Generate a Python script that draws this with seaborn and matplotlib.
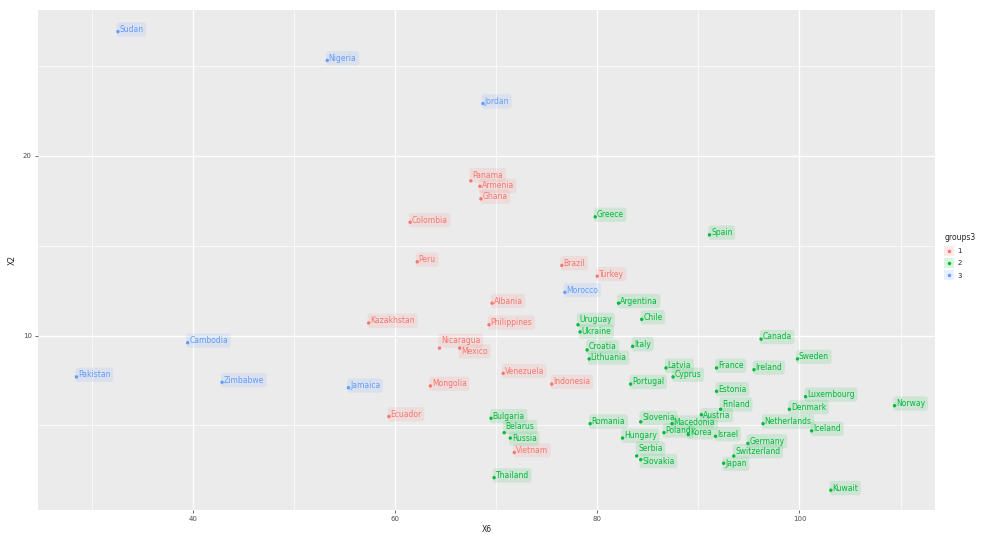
import matplotlib
matplotlib.use("Agg")
import matplotlib.pyplot as plt
from matplotlib.lines import Line2D
import seaborn as sns
import pandas as pd

# country scores on the two indicators, with cluster membership
countries = [
    "Sudan", "Nigeria", "Jordan", "Morocco", "Cambodia", "Pakistan", "Zimbabwe", "Jamaica",
    "Panama", "Armenia", "Ghana", "Colombia", "Peru", "Brazil", "Turkey", "Albania",
    "Philippines", "Kazakhstan", "Nicaragua", "Mexico", "Ecuador", "Mongolia", "Venezuela",
    "Indonesia", "Vietnam",
    "Greece", "Spain", "Argentina", "Chile", "Uruguay", "Ukraine", "Croatia", "Lithuania",
    "Italy", "Canada", "Sweden", "Latvia", "Cyprus", "France", "Ireland", "Portugal",
    "Estonia", "Luxembourg", "Norway", "Austria", "Finland", "Denmark", "Netherlands",
    "Iceland", "Romania", "Bulgaria", "Slovenia", "Macedonia", "Hungary", "Poland", "Korea",
    "Israel", "Germany", "Belarus", "Russia", "Serbia", "Slovakia", "Switzerland", "Japan",
    "Thailand", "Kuwait",
]
x6 = [
    32.6, 53.3, 68.7, 76.8, 39.5, 28.5, 42.9, 55.4,
    67.5, 68.4, 68.5, 61.5, 62.2, 76.5, 80.0, 69.6,
    69.3, 57.4, 64.4, 66.4, 59.4, 63.5, 70.7,
    75.5, 71.8,
    79.8, 91.1, 82.1, 84.4, 78.1, 78.3, 79.0, 79.2,
    83.5, 96.2, 99.8, 86.8, 87.5, 91.8, 95.5, 83.3,
    91.8, 100.6, 109.4, 90.3, 92.2, 99.0, 96.4,
    101.2, 79.3, 69.5, 84.3, 87.4, 82.5, 86.6, 89.0,
    91.7, 94.9, 70.8, 71.4, 83.9, 84.3, 93.5, 92.5,
    69.8, 103.1,
]
x2 = [
    26.9, 25.3, 22.9, 12.4, 9.6, 7.7, 7.4, 7.1,
    18.6, 18.3, 17.6, 16.3, 14.1, 13.9, 13.3, 11.8,
    10.6, 10.7, 9.3, 9.3, 5.5, 7.2, 7.9,
    7.3, 3.5,
    16.6, 15.6, 11.8, 10.9, 10.6, 10.2, 9.2, 8.7,
    9.4, 9.8, 8.7, 8.2, 7.7, 8.2, 8.1, 7.3,
    6.9, 6.6, 6.1, 5.6, 5.9, 5.9, 5.1,
    4.7, 5.1, 5.4, 5.2, 5.1, 4.3, 4.6, 4.5,
    4.4, 4.0, 4.6, 4.3, 3.3, 3.1, 3.3, 2.9,
    2.1, 1.4,
]
groups3 = (["3"] * 8) + (["1"] * 17) + (["2"] * 41)

group_levels = ["1", "2", "3"]
palette = {"1": "#F8766D", "2": "#00BA38", "3": "#619CFF"}

# small vertical nudges so that crowded labels stay readable
label_nudge = {
    "Panama": 0.2, "Armenia": -0.1, "Nicaragua": 0.3, "Mexico": -0.3,
    "Uruguay": 0.15, "Ukraine": -0.1, "Croatia": 0.05, "Lithuania": -0.05,
    "Belarus": 0.2, "Russia": -0.15, "Serbia": 0.3, "Slovakia": -0.2,
    "Slovenia": 0.1, "Macedonia": -0.05, "Austria": -0.15, "Finland": 0.15,
    "Switzerland": 0.15, "Japan": -0.15,
}

df = pd.DataFrame({"country": countries, "X6": x6, "X2": x2, "groups3": groups3})

sns.set_theme(style="darkgrid")
fig = plt.figure(figsize=(9.89, 5.36), dpi=100)
ax = fig.add_axes([38 / 989, 26 / 536, (935 - 38) / 989, (510 - 10) / 536])
ax.set_facecolor("#EBEBEB")

sns.scatterplot(data=df, x="X6", y="X2", hue="groups3", hue_order=group_levels,
                palette=palette, s=6, linewidth=0, legend=False, ax=ax, zorder=3)

for _, row in df.iterrows():
    c = palette[row["groups3"]]
    dy = label_nudge.get(row["country"], 0.0)
    ax.text(row["X6"] + 0.15, row["X2"] + 0.12 + dy, row["country"], fontsize=5.5, color=c,
            ha="left", va="center", zorder=4,
            bbox=dict(boxstyle="round,pad=0.35", facecolor=c, alpha=0.12, edgecolor="none"))

ax.set_xlim(24.7, 113.4)
ax.set_ylim(0.3, 28.1)
ax.set_xticks([40, 60, 80, 100])
ax.set_yticks([10, 20])
ax.set_xticks([30, 50, 70, 90, 110], minor=True)
ax.set_yticks([5, 15, 25], minor=True)
ax.grid(which="major", color="white", linewidth=1.0)
ax.grid(which="minor", color="white", linewidth=0.5)
for s in ax.spines.values():
    s.set_visible(False)
ax.tick_params(axis="both", which="major", labelsize=5, colors="#4D4D4D",
               length=2.5, width=0.6, pad=2, bottom=True, left=True)
ax.tick_params(axis="both", which="minor", length=0)
ax.set_xlabel("X6", fontsize=5.5, color="#222222", labelpad=2)
ax.set_ylabel("X2", fontsize=5.5, color="#222222", labelpad=4)

handles = []
for g in group_levels:
    box = Line2D([0], [0], marker="s", linestyle="none", markersize=7,
                 markerfacecolor=palette[g], alpha=0.15, markeredgewidth=0)
    dot = Line2D([0], [0], marker="o", linestyle="none", markersize=2.5,
                 markerfacecolor=palette[g], markeredgewidth=0)
    handles.append((box, dot))
leg = fig.legend(handles, group_levels, title="groups3", loc="upper left",
                 bbox_to_anchor=(940 / 989, 1 - 228 / 536), frameon=False,
                 fontsize=5, title_fontsize=5.5, handlelength=1.2, handletextpad=0.6,
                 labelspacing=0.9, borderpad=0.2)
leg._legend_box.align = "left"

fig.savefig("out.png", dpi=100, facecolor="white")
